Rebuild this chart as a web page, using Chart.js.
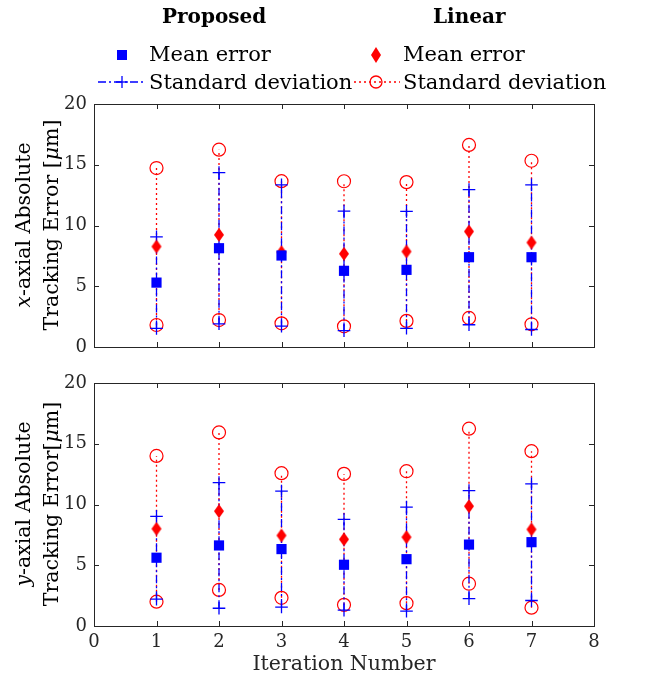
<!DOCTYPE html>
<html>
<head>
<meta charset="utf-8">
<script src="https://cdn.jsdelivr.net/npm/chart.js@4.4.1/dist/chart.umd.min.js"></script>
<style>
  body { margin: 0; background: #fff; }
  #wrap { position: relative; width: 649px; height: 679px; background: #fff; font-family: "DejaVu Serif", serif; color: #000; }
  canvas { position: absolute; left: 0; }
  .txt { position: absolute; white-space: nowrap; line-height: 1; }
  .head { font-weight: bold; font-size: 20px; }
  .leg { font-size: 21px; }
  .ytitle { position: absolute; width: 320px; height: 56px; font-size: 20.5px; line-height: 28px; text-align: center; transform: rotate(-90deg); white-space: nowrap; }
  svg { position: absolute; }
</style>
</head>
<body>
<div id="wrap">
  <canvas id="topChart" width="649" height="360" style="top:0"></canvas>
  <canvas id="botChart" width="649" height="319" style="top:360px"></canvas>

  <div class="txt head" style="left:162px;top:6px">Proposed</div>
  <div class="txt head" style="left:433px;top:6px">Linear</div>

  <svg width="60" height="20" style="left:92px;top:45px"><rect x="25" y="5" width="10" height="10" fill="#0000ff"/></svg>
  <div class="txt leg" style="left:149px;top:44px">Mean error</div>
  <svg width="60" height="20" style="left:92px;top:72px">
    <line x1="6" y1="10" x2="52" y2="10" stroke="#0000ff" stroke-width="1.3" stroke-dasharray="8,3,2,3"/>
    <line x1="24" y1="10" x2="36" y2="10" stroke="#0000ff" stroke-width="1.3"/>
    <line x1="30" y1="4" x2="30" y2="16" stroke="#0000ff" stroke-width="1.3"/>
  </svg>
  <div class="txt leg" style="left:149px;top:72px">Standard deviation</div>

  <svg width="60" height="24" style="left:346px;top:43px"><polygon points="30,4 35,12 30,20 25,12" fill="#ff0000"/></svg>
  <div class="txt leg" style="left:403px;top:44px">Mean error</div>
  <svg width="60" height="20" style="left:348px;top:72px">
    <line x1="6" y1="10" x2="52" y2="10" stroke="#ff0000" stroke-width="1.3" stroke-dasharray="2,3"/>
    <circle cx="28" cy="10" r="6" fill="none" stroke="#ff0000" stroke-width="1.3"/>
  </svg>
  <div class="txt leg" style="left:403px;top:72px">Standard deviation</div>

  <div class="ytitle" style="left:-123px;top:197px"><i>x</i>-axial Absolute<br>Tracking Error [<i>μ</i>m]</div>
  <div class="ytitle" style="left:-123px;top:476px"><i>y</i>-axial Absolute<br>Tracking Error[<i>μ</i>m]</div>
</div>

<script>
// datos
const iterations = [1, 2, 3, 4, 5, 6, 7];
const xTicks = [0, 1, 2, 3, 4, 5, 6, 7, 8];
const yTicks = [0, 5, 10, 15, 20];

// eje x (arriba)
const xPropMean = [5.3, 8.13, 7.53, 6.27, 6.35, 7.39, 7.39];
const xPropStd = [3.77, 6.22, 5.82, 4.92, 4.81, 5.56, 5.95];
const xLinMean = [8.27, 9.23, 7.8, 7.67, 7.86, 9.51, 8.6];
const xLinStd = [6.46, 7.01, 5.85, 5.97, 5.71, 7.12, 6.73];

// eje y (abajo)
const yPropMean = [5.62, 6.63, 6.33, 5.04, 5.5, 6.7, 6.9];
const yPropStd = [3.41, 5.17, 4.77, 3.74, 4.28, 4.45, 4.8];
const yLinMean = [8.0, 9.45, 7.45, 7.13, 7.31, 9.86, 7.95];
const yLinStd = [6.0, 6.48, 5.13, 5.39, 5.43, 6.38, 6.44];

const BLUE = "#0000ff";
const RED = "#ff0000";
const AXIS = "#262626";
const FONT = "DejaVu Serif";

// diamante mas alto que ancho, como el de MATLAB
const diamond = document.createElement("canvas");
diamond.width = 12;
diamond.height = 16;
(function () {
  const c = diamond.getContext("2d");
  c.fillStyle = RED;
  c.beginPath();
  c.moveTo(6, 1);
  c.lineTo(11, 8);
  c.lineTo(6, 15);
  c.lineTo(1, 8);
  c.closePath();
  c.fill();
})();

function meanPoints(means) {
  return iterations.map((it, i) => ({ x: it, y: means[i] }));
}
function stdPoints(means, stds) {
  const pts = [];
  iterations.forEach((it, i) => {
    pts.push({ x: it, y: means[i] - stds[i] });
    pts.push({ x: it, y: means[i] + stds[i] });
    pts.push({ x: it, y: null });
  });
  return pts;
}

function makeDatasets(pMean, pStd, lMean, lStd) {
  return [
    {
      label: "Proposed mean",
      data: meanPoints(pMean),
      showLine: false,
      pointStyle: "rect",
      pointRadius: 7.2,
      backgroundColor: BLUE,
      borderColor: BLUE,
      pointBorderWidth: 0,
      order: 0,
    },
    {
      label: "Linear mean",
      data: meanPoints(lMean),
      showLine: false,
      pointStyle: diamond,
      pointRadius: 8,
      backgroundColor: RED,
      borderColor: RED,
      order: 1,
    },
    {
      label: "Proposed std",
      data: stdPoints(pMean, pStd),
      showLine: true,
      spanGaps: false,
      borderColor: BLUE,
      borderWidth: 1.3,
      borderDash: [8, 3, 2, 3],
      pointStyle: "cross",
      pointRadius: 6.3,
      pointBorderWidth: 1.3,
      pointBorderColor: BLUE,
      order: 2,
    },
    {
      label: "Linear std",
      data: stdPoints(lMean, lStd),
      showLine: true,
      spanGaps: false,
      borderColor: RED,
      borderWidth: 1.3,
      borderDash: [2, 3],
      pointStyle: "circle",
      pointRadius: 6.5,
      pointBorderWidth: 1.2,
      pointBorderColor: RED,
      pointBackgroundColor: "rgba(0,0,0,0)",
      order: 3,
    },
  ];
}

// marco y ticks hacia adentro (estilo MATLAB)
const matlabBox = {
  id: "matlabBox",
  afterDraw(chart) {
    const { ctx, chartArea: a, scales } = chart;
    const len = 5;
    ctx.save();
    ctx.strokeStyle = AXIS;
    ctx.lineWidth = 1;
    ctx.beginPath();
    xTicks.slice(1, -1).forEach((v) => {
      const px = Math.round(scales.x.getPixelForValue(v)) + 0.5;
      ctx.moveTo(px, a.top);
      ctx.lineTo(px, a.top + len);
      ctx.moveTo(px, a.bottom);
      ctx.lineTo(px, a.bottom - len);
    });
    yTicks.slice(1, -1).forEach((v) => {
      const py = Math.round(scales.y.getPixelForValue(v)) + 0.5;
      ctx.moveTo(a.left, py);
      ctx.lineTo(a.left + len, py);
      ctx.moveTo(a.right, py);
      ctx.lineTo(a.right - len, py);
    });
    ctx.stroke();
    ctx.strokeRect(Math.round(a.left) + 0.5, Math.round(a.top) + 0.5, Math.round(a.right - a.left), Math.round(a.bottom - a.top));
    ctx.restore();
  },
};

function makeConfig(datasets, bottom) {
  return {
    type: "scatter",
    data: { datasets: datasets },
    options: {
      responsive: false,
      animation: false,
      events: [],
      devicePixelRatio: 1,
      layout: {
        padding: bottom ? { top: 23, right: 55, bottom: 0, left: 0 } : { top: 104, right: 55, bottom: 13, left: 0 },
      },
      scales: {
        x: {
          type: "linear",
          min: 0,
          max: 8,
          afterBuildTicks: (s) => { s.ticks = xTicks.map((v) => ({ value: v })); },
          grid: { display: false, drawTicks: false },
          border: { display: false },
          ticks: {
            display: bottom,
            padding: 6,
            color: AXIS,
            font: { family: FONT, size: 18 },
          },
          title: {
            display: bottom,
            text: "Iteration Number",
            color: AXIS,
            padding: { top: 0, bottom: 2 },
            font: { family: FONT, size: 20.5 },
          },
          afterFit: (s) => { s.height = bottom ? 53 : 0; },
        },
        y: {
          min: 0,
          max: 20,
          afterBuildTicks: (s) => { s.ticks = yTicks.map((v) => ({ value: v })); },
          grid: { display: false, drawTicks: false },
          border: { display: false },
          ticks: {
            padding: 7,
            color: AXIS,
            font: { family: FONT, size: 18 },
          },
          afterFit: (s) => {
            s.width = 94;
            // que el "0" no empuje el borde inferior del grafico de arriba
            if (!bottom) s.paddingBottom = 0;
          },
        },
      },
      plugins: {
        legend: { display: false },
        tooltip: { enabled: false },
      },
    },
    plugins: [matlabBox],
  };
}

new Chart(document.getElementById("topChart"), makeConfig(makeDatasets(xPropMean, xPropStd, xLinMean, xLinStd), false));
new Chart(document.getElementById("botChart"), makeConfig(makeDatasets(yPropMean, yPropStd, yLinMean, yLinStd), true));
</script>
</body>
</html>
